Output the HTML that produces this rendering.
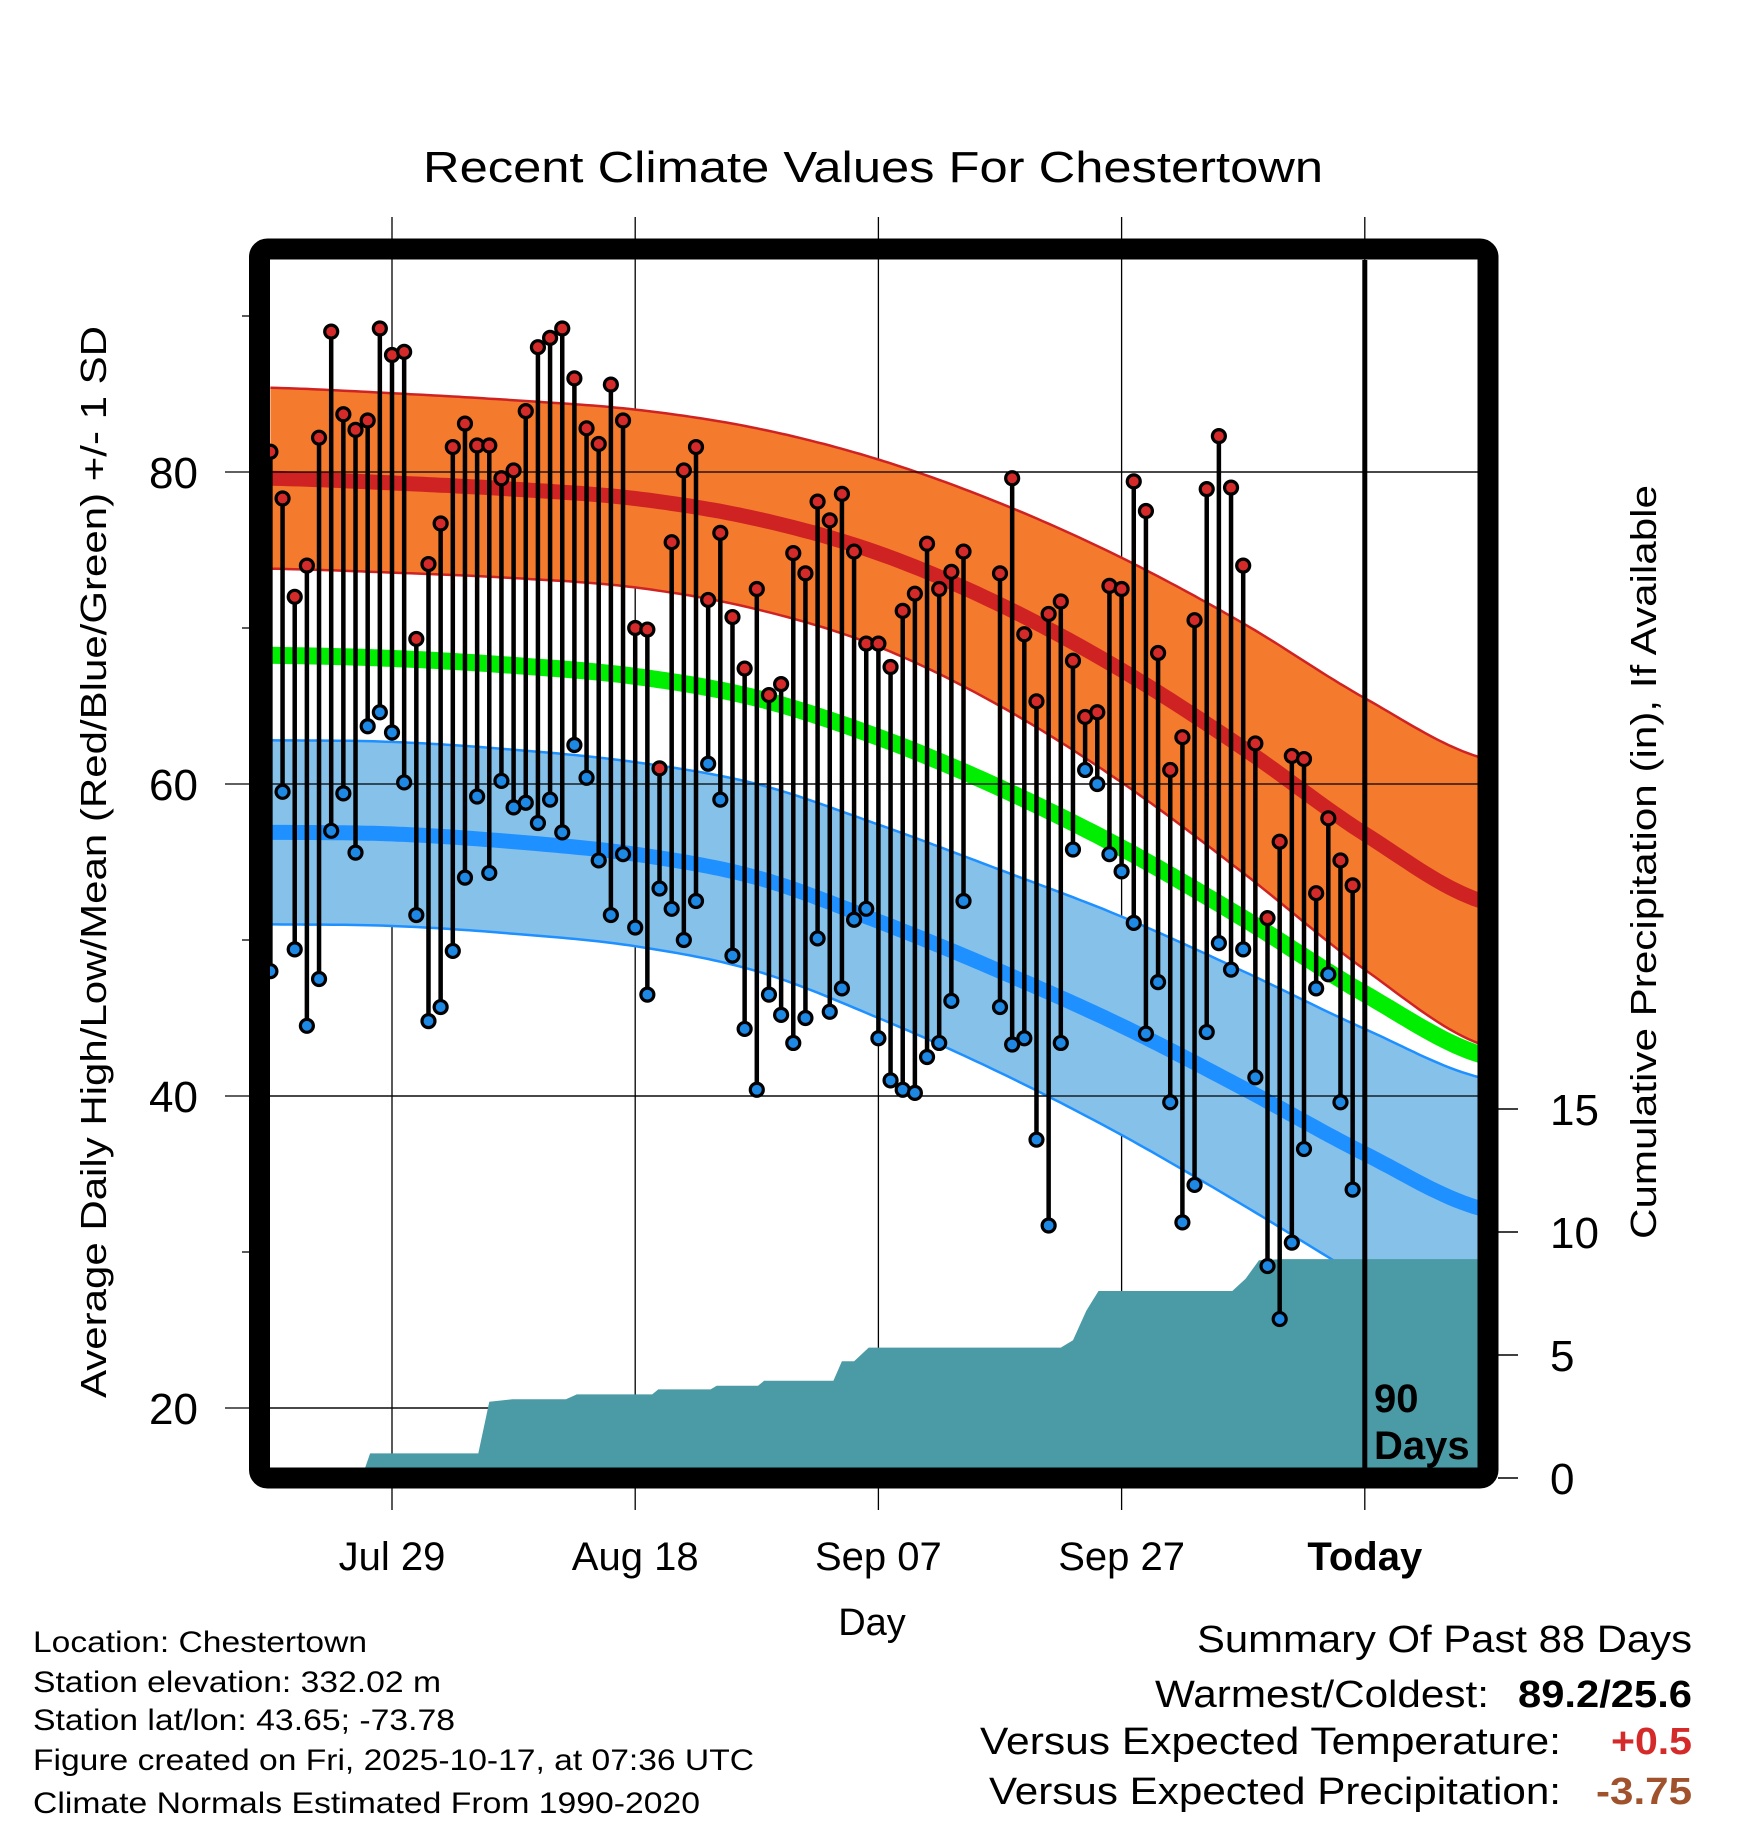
<!DOCTYPE html>
<html><head><meta charset="utf-8"><style>
html,body{margin:0;padding:0;background:#fff}
svg{display:block;font-family:"Liberation Sans",sans-serif}
</style></head><body>
<svg id="chart" width="1748" height="1828" viewBox="0 0 1748 1828" xmlns="http://www.w3.org/2000/svg">
<defs><clipPath id="plotclip"><rect x="270" y="260" width="1208" height="1208"/></clipPath></defs>
<text x="873" y="182" font-size="44" text-anchor="middle" textLength="900" lengthAdjust="spacingAndGlyphs">Recent Climate Values For Chestertown</text>
<g id="grid"></g>
<g id="plot" clip-path="url(#plotclip)"></g>
<g id="marks" clip-path="url(#plotclip)"></g>
<rect x="259.5" y="249" width="1228.5" height="1229" rx="8" fill="none" stroke="#000" stroke-width="21"/>
<g id="axes"></g>
<text transform="translate(106,862) rotate(-90)" font-size="36" text-anchor="middle" textLength="1072" lengthAdjust="spacingAndGlyphs">Average Daily High/Low/Mean (Red/Blue/Green) +/- 1 SD</text>
<text transform="translate(1656,862) rotate(-90)" font-size="36" text-anchor="middle" textLength="754" lengthAdjust="spacingAndGlyphs">Cumulative Precipitation (in), If Available</text>
<text x="872" y="1635" font-size="38" text-anchor="middle">Day</text>
<text font-size="40" font-weight="bold"><tspan x="1374" y="1412">90</tspan><tspan x="1374" y="1459">Days</tspan></text>
<g font-size="30">
<text x="33" y="1652" textLength="334" lengthAdjust="spacingAndGlyphs">Location: Chestertown</text>
<text x="33" y="1692" textLength="408" lengthAdjust="spacingAndGlyphs">Station elevation: 332.02 m</text>
<text x="33" y="1730" textLength="422" lengthAdjust="spacingAndGlyphs">Station lat/lon: 43.65; -73.78</text>
<text x="33" y="1770" textLength="721" lengthAdjust="spacingAndGlyphs">Figure created on Fri, 2025-10-17, at 07:36 UTC</text>
<text x="33" y="1813" textLength="667" lengthAdjust="spacingAndGlyphs">Climate Normals Estimated From 1990-2020</text>
</g>
<g font-size="38">
<text x="1692" y="1652" text-anchor="end" textLength="495" lengthAdjust="spacingAndGlyphs">Summary Of Past 88 Days</text>
<text x="1155" y="1707" textLength="334" lengthAdjust="spacingAndGlyphs">Warmest/Coldest:</text>
<text x="1692" y="1707" text-anchor="end" font-weight="bold" textLength="174" lengthAdjust="spacingAndGlyphs">89.2/25.6</text>
<text x="980" y="1754" textLength="581" lengthAdjust="spacingAndGlyphs">Versus Expected Temperature:</text>
<text x="1692" y="1754" text-anchor="end" font-weight="bold" fill="#d42a2a" textLength="81" lengthAdjust="spacingAndGlyphs">+0.5</text>
<text x="989" y="1804" textLength="572" lengthAdjust="spacingAndGlyphs">Versus Expected Precipitation:</text>
<text x="1692" y="1804" text-anchor="end" font-weight="bold" fill="#a0522d" textLength="96" lengthAdjust="spacingAndGlyphs">-3.75</text>
</g>
</svg>
<script>
// Daily observations (day index 0 = Jul 19)
const obsDays = [0,1,2,3,4,5,6,7,8,9,10,11,12,13,14,15,16,17,18,19,20,21,22,23,24,25,26,27,28,29,30,31,32,33,34,35,36,37,38,39,40,41,42,43,44,45,46,47,48,49,50,51,52,53,54,55,56,57,60,61,62,63,64,65,66,67,68,69,70,71,72,73,74,75,76,77,78,79,80,81,82,83,84,85,86,87,88,89];
const highs = [81.3,78.3,72.0,74.0,82.2,89.0,83.7,82.7,83.3,89.2,87.5,87.7,69.3,74.1,76.7,81.6,83.1,81.7,81.7,79.6,80.1,83.9,88.0,88.6,89.2,86.0,82.8,81.8,85.6,83.3,70.0,69.9,61.0,75.5,80.1,81.6,71.8,76.1,70.7,67.4,72.5,65.7,66.4,74.8,73.5,78.1,76.9,78.6,74.9,69.0,69.0,67.5,71.1,72.2,75.4,72.5,73.6,74.9,73.5,79.6,69.6,65.3,70.9,71.7,67.9,64.3,64.6,72.7,72.5,79.4,77.5,68.4,60.9,63.0,70.5,78.9,82.3,79.0,74.0,62.6,51.4,56.3,61.8,61.6,53.0,57.8,55.1,53.5];
const lows = [48.0,59.5,49.4,44.5,47.5,57.0,59.4,55.6,63.7,64.6,63.3,60.1,51.6,44.8,45.7,49.3,54.0,59.2,54.3,60.2,58.5,58.8,57.5,59.0,56.9,62.5,60.4,55.1,51.6,55.5,50.8,46.5,53.3,52.0,50.0,52.5,61.3,59.0,49.0,44.3,40.4,46.5,45.2,43.4,45.0,50.1,45.4,46.9,51.3,52.0,43.7,41.0,40.4,40.2,42.5,43.4,46.1,52.5,45.7,43.3,43.7,37.2,31.7,43.4,55.8,60.9,60.0,55.5,54.4,51.1,44.0,47.3,39.6,31.9,34.3,44.1,49.8,48.1,49.4,41.2,29.1,25.7,30.6,36.6,46.9,47.8,39.6,34.0];
// Climate normals sampled every 10 days
const normDays = [0,10,20,30,40,50,60,70,80,90,100];
const normHigh = [79.6,79.3,78.9,78.3,77.0,74.8,71.5,67.3,62.3,56.8,52.4];
const sdHigh = [5.8,5.75,5.7,5.7,5.8,6.0,6.5,7.2,8.0,8.7,9.2];
const normLow = [56.9,56.8,56.3,55.5,54.0,51.2,48.0,44.5,40.5,36.3,32.7];
const sdLow = [5.9,5.9,5.9,5.9,6.0,6.2,6.5,7.0,7.5,8.0,8.4];
// Cumulative precipitation breakpoints
const precipDays = [0,7.5,8.2,17.1,18.0,19.9,24.3,25.2,31.4,31.9,36.2,36.7,40.1,40.6,46.3,47.0,48.0,49.2,65.0,66.0,67.1,68.1,79.1,80.2,81.3,83.2,99.3];
const precipCum = [0,0,1.0,1.0,3.1,3.2,3.2,3.4,3.4,3.6,3.6,3.75,3.75,3.95,3.95,4.75,4.75,5.3,5.3,5.6,6.8,7.6,7.6,8.1,8.85,8.9,8.9];
// Axis ticks
const tempTicks = [20,40,60,80];
const tempMinor = [30,50,70,90];
const precipTicks = [0,5,10,15];
const dateTickDays = [10,30,50,70,90];
const dateTickLabels = ["Jul 29","Aug 18","Sep 07","Sep 27","Today"];

const NS="http://www.w3.org/2000/svg";
const xs = d => 270.4 + d*12.16;
const yt = t => 472 + (80-t)*15.6;
const yp = p => 1478 - p*24.6;
function mk(tag, attrs, parent){const e=document.createElementNS(NS,tag);for(const k in attrs)e.setAttribute(k,attrs[k]);parent.appendChild(e);return e;}
function smooth(days, vals, d){ // catmull-rom
  let i=0; while(i<days.length-2 && d>days[i+1]) i++;
  const p0=vals[Math.max(0,i-1)],p1=vals[i],p2=vals[i+1],p3=vals[Math.min(vals.length-1,i+2)];
  const t=(d-days[i])/(days[i+1]-days[i]);
  return 0.5*((2*p1)+(-p0+p2)*t+(2*p0-5*p1+4*p2-p3)*t*t+(-p0+3*p1-3*p2+p3)*t*t*t);
}
const grid=document.getElementById('grid'), plot=document.getElementById('plot'), marks=document.getElementById('marks'), axes=document.getElementById('axes');
const sampleDays=[]; for(let d=0; d<=99.5; d+=0.5) sampleDays.push(d);
function series(arr, sd, k){return sampleDays.map(d=>smooth(normDays,arr,d)+k*smooth(normDays,sd,d));}
function linePts(vals){return sampleDays.map((d,i)=>xs(d).toFixed(1)+','+yt(vals[i]).toFixed(1)).join(' ');}
function bandPts(up, lo){return linePts(up)+' '+sampleDays.slice().reverse().map((d,i)=>xs(d).toFixed(1)+','+yt(lo[lo.length-1-i]).toFixed(1)).join(' ');}

dateTickDays.forEach((d,i)=>{
  const l=mk('line',{x1:xs(d),x2:xs(d),y1:217,y2:1510,stroke:'#000','stroke-width':1.3},grid);
  
  
  const t=mk('text',{x:xs(d),y:1570,'font-size':40,'text-anchor':'middle','font-weight':i==4?'bold':'normal'},axes);
  t.textContent=dateTickLabels[i];
  
  
});
tempTicks.forEach(v=>{
  const l=mk('line',{x1:225,x2:1478,y1:yt(v),y2:yt(v),stroke:'#000','stroke-width':1.3},grid);
  
  
  const t=mk('text',{x:198,y:yt(v)+16,'font-size':44,'text-anchor':'end'},axes);
  t.textContent=v;
  
  
});
tempMinor.forEach(v=>{
  const l=mk('line',{x1:242,x2:252,y1:yt(v),y2:yt(v),stroke:'#000','stroke-width':1.3},axes);
  
  
});
precipTicks.forEach(v=>{
  const l=mk('line',{x1:1498,x2:1518,y1:yp(v),y2:yp(v),stroke:'#000','stroke-width':1.5},axes);
  
  
  const t=mk('text',{x:1550,y:yp(v)+16,'font-size':44},axes);
  t.textContent=v;
  
  
});

const hiUp=series(normHigh,sdHigh,1), hiLo=series(normHigh,sdHigh,-1), hiM=series(normHigh,sdHigh,0);
const loUp=series(normLow,sdLow,1), loLo=series(normLow,sdLow,-1), loM=series(normLow,sdLow,0);
const avgM=sampleDays.map((d,i)=>(hiM[i]+loM[i])/2);
let e;
e=mk('polygon',{points:bandPts(hiUp,hiLo),fill:'#f47a2e'},plot);


e=mk('polyline',{points:linePts(hiUp),fill:'none',stroke:'#cf2222','stroke-width':2.5},plot);


e=mk('polyline',{points:linePts(hiLo),fill:'none',stroke:'#cf2222','stroke-width':2.5},plot);


e=mk('polygon',{points:bandPts(loUp,loLo),fill:'#85c1e9'},plot);


e=mk('polyline',{points:linePts(loUp),fill:'none',stroke:'#1e90ff','stroke-width':2.5},plot);


e=mk('polyline',{points:linePts(loLo),fill:'none',stroke:'#1e90ff','stroke-width':2.5},plot);


e=mk('polyline',{points:linePts(avgM),fill:'none',stroke:'#00ee00','stroke-width':17},plot);


e=mk('polyline',{points:linePts(hiM),fill:'none',stroke:'#cf2222','stroke-width':15},plot);


e=mk('polyline',{points:linePts(loM),fill:'none',stroke:'#1e90ff','stroke-width':15},plot);


tempTicks.forEach(v=>{
  const l=mk('line',{x1:270,x2:1478,y1:yt(v),y2:yt(v),stroke:'#000','stroke-width':1.3},plot);
  
  
});
let pp=precipDays.map((d,i)=>xs(d).toFixed(1)+','+yp(precipCum[i]).toFixed(1)).join(' ');
pp+=' '+xs(99.3)+','+yp(0)+' '+xs(0)+','+yp(0);
e=mk('polygon',{points:pp,fill:'#4a9ba5'},plot);


e=mk('line',{x1:xs(90),x2:xs(90),y1:217,y2:1468,stroke:'#000','stroke-width':5},plot);


obsDays.forEach((d,i)=>{
  const s=mk('line',{x1:xs(d),x2:xs(d),y1:yt(highs[i]),y2:yt(lows[i]),stroke:'#000','stroke-width':4.5},marks);
  
  
});
obsDays.forEach((d,i)=>{
  const h=mk('circle',{cx:xs(d),cy:yt(highs[i]),r:6.5,fill:'#d42a2a',stroke:'#000','stroke-width':3.2},marks);
  
  
  const l=mk('circle',{cx:xs(d),cy:yt(lows[i]),r:6.5,fill:'#1e88e5',stroke:'#000','stroke-width':3.2},marks);
  
  
});
</script>
</body></html>
